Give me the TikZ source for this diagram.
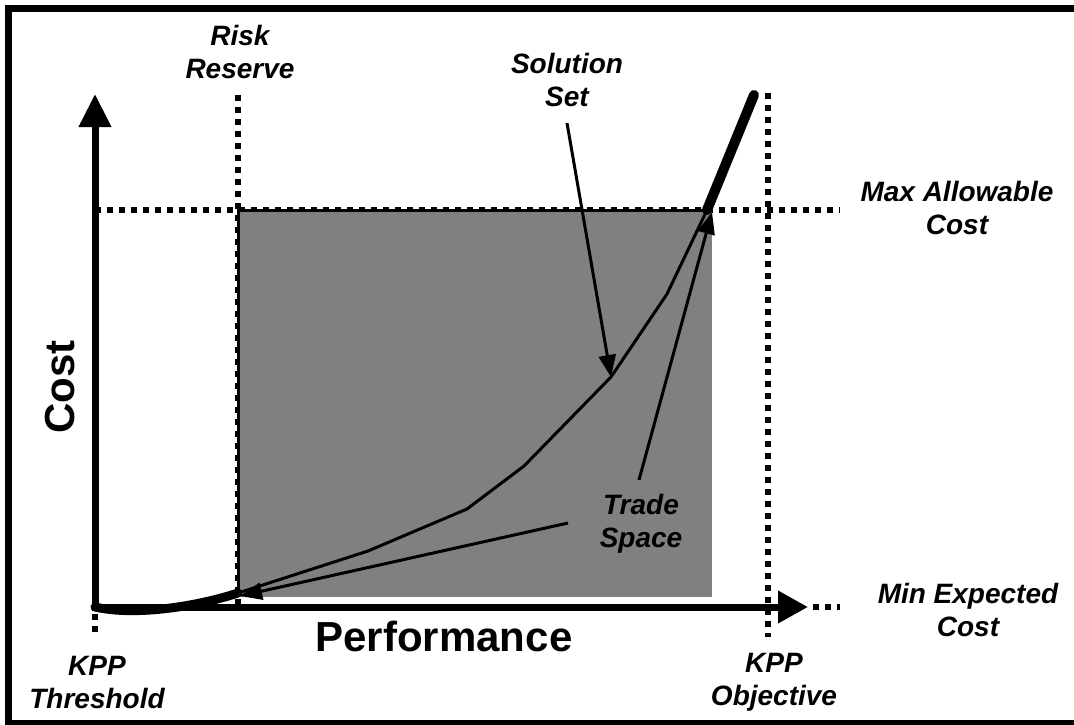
\documentclass[tikz,border=0pt]{standalone}
\usepackage{fontspec}
\setmainfont{Liberation Sans}
\usetikzlibrary{arrows.meta}
\tikzset{
  lbl/.style={font=\fontsize{28}{33}\selectfont\bfseries\itshape, align=center, inner sep=0pt},
  biglbl/.style={font=\fontsize{42}{48}\selectfont\bfseries, inner sep=0pt},
  dotline/.style={line width=6pt, dash pattern=on 6pt off 6pt},
  thinline/.style={line width=3pt, line join=round},
  ptr/.style={line width=3pt, -{Triangle[length=22pt,width=17pt]}},
  axis/.style={line width=7pt, {Triangle[length=33pt,width=31pt]}-{Triangle[length=30pt,width=31pt]}}
}
\begin{document}
\begin{tikzpicture}[x=1pt,y=-1pt]
\useasboundingbox (0,0) rectangle (1074,724);
\clip (0,0) rectangle (1074,724);
% frame
\draw[line width=7pt] (8,8.5) rectangle (1090,723.5);
% coordinates
\coordinate (O) at (95,607);
\coordinate (Ytop) at (95,94);
\coordinate (Xend) at (808,607);
\coordinate (R1) at (238,95);
\coordinate (R2) at (238,605);
\coordinate (M1) at (95,210);
\coordinate (M2) at (840,210);
\coordinate (K1) at (768,93);
\coordinate (K2) at (768,637);
\coordinate (T1) at (95,614);
\coordinate (T2) at (95,635);
\coordinate (X1) at (813,607);
\coordinate (X2) at (840,607);
\coordinate (P0) at (238,593);
\coordinate (P1) at (368,551);
\coordinate (P2) at (467,509);
\coordinate (P3) at (524,466);
\coordinate (P4) at (611,377);
\coordinate (P5) at (667,294);
\coordinate (P6) at (707,210);
\coordinate (P7) at (754,95);
% dotted guides
\draw[dotline] (M1) -- (M2);
\draw[dotline] (R1) -- (R2);
\draw[dotline] (K1) -- (K2);
\draw[dotline] (T1) -- (T2);
\draw[dotline] (X1) -- (X2);
% gray trade space
\fill[fill={rgb,255:red,128;green,128;blue,128}] (238,210) rectangle (712,597);
\draw[line width=3pt] (238,597) -- (238,210) -- (707,210);
% axes
\draw[axis] (Ytop) -- (O) -- (Xend);
% solution curve
\draw[line width=9pt, line cap=round] (O) .. controls (135,616) and (195,607) .. (P0);
\draw[thinline] (P0) -- (P1) -- (P2) -- (P3) -- (P4) -- (P5) -- (P6);
\draw[line width=10pt, line cap=round] (P6) -- (P7);
% labels
\node[lbl] (rr) at (240,52) {Risk\\Reserve};
\node[lbl] (ss) at (567,80) {Solution\\Set};
\node[lbl] (mac) at (957,208) {Max Allowable\\Cost};
\node[lbl] (mec) at (968,610) {Min Expected\\Cost};
\node[lbl] (kt) at (97,682) {KPP\\Threshold};
\node[lbl] (ko) at (774,682) {KPP\\Objective};
\node[lbl] (ts) at (641,524) {Trade\\Space};
\node[biglbl] (perf) at (444,636) {Performance};
\node[biglbl, rotate=90] (cost) at (60,387) {Cost};
% pointer arrows
\coordinate (ssT) at (567,123);
\coordinate (tsA) at (639,480);
\coordinate (tsB) at (568,523);
\coordinate (tipA) at (712,212);
\coordinate (tipB) at (240,596);
\draw[ptr] (ssT) -- (P4);
\draw[ptr] (tsA) -- (tipA);
\draw[ptr] (tsB) -- (tipB);
\end{tikzpicture}
\end{document}
